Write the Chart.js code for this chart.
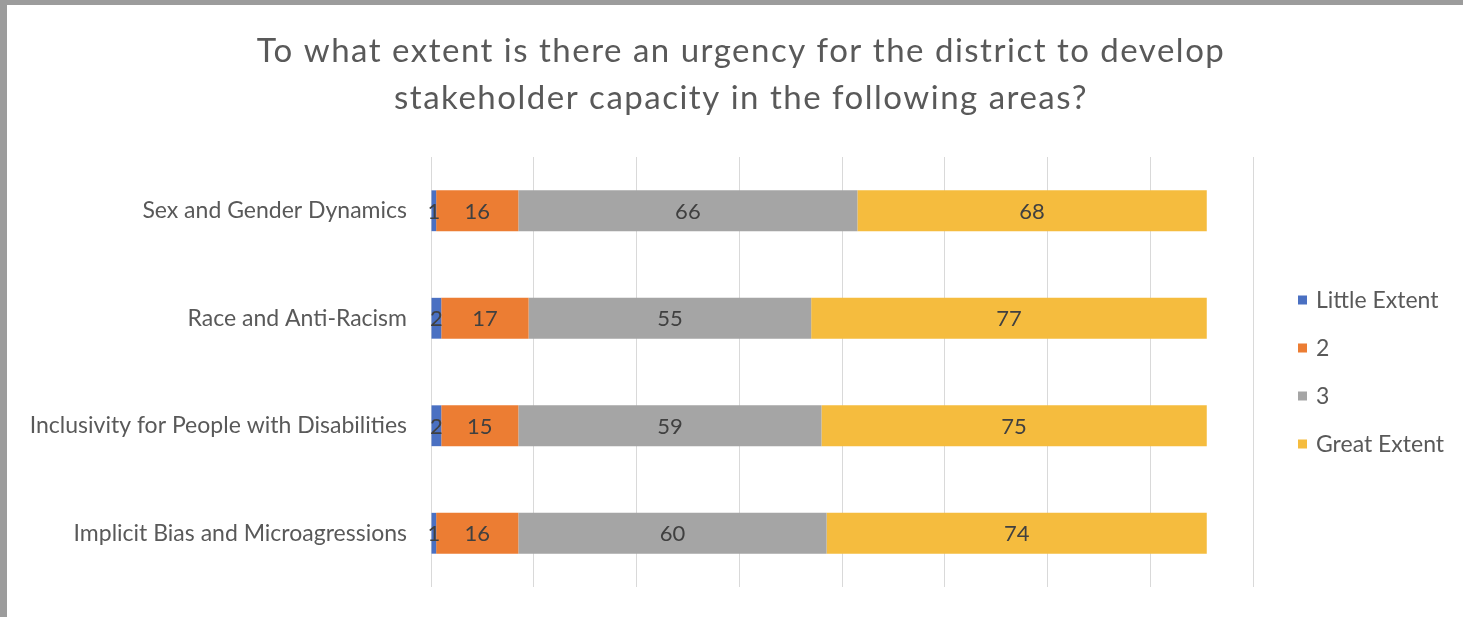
<!DOCTYPE html>
<html>
<head>
<meta charset="utf-8">
<title>Stakeholder capacity urgency</title>
<script src="https://cdn.jsdelivr.net/npm/chart.js@4/dist/chart.umd.min.js"></script>
<style>
  html, body { margin: 0; padding: 0; }
  body { background: #9c9c9c; width: 1463px; height: 617px; overflow: hidden; position: relative; }
  #frame { position: absolute; left: 7px; top: 5px; width: 1456px; height: 612px; background: #fff; }
  canvas { display: block; }
</style>
</head>
<body>
<div id="frame"><canvas id="chart" width="1456" height="612"></canvas></div>
<script>
  // ── Data ──────────────────────────────────────────────────
  const areas = [
    'Sex and Gender Dynamics',
    'Race and Anti-Racism',
    'Inclusivity for People with Disabilities',
    'Implicit Bias and Microagressions',
  ];
  const seriesNames = ['Little Extent', '2', '3', 'Great Extent'];
  const littleExtent = [1, 2, 2, 1];
  const level2 = [16, 17, 15, 16];
  const level3 = [66, 55, 59, 60];
  const greatExtent = [68, 77, 75, 74];
  const xTicks = [0, 20, 40, 60, 80, 100, 120, 140, 160];
  const titleLines = [
    'To what extent is there an urgency for the district to develop',
    'stakeholder capacity in the following areas?',
  ];

  const colors = ['#4a70c2', '#ec7d33', '#a5a5a5', '#f5bc3e'];
  const FONT = 'Lato, "Open Sans", sans-serif';
  const TEXT = '#595959';

  // ── Plugins ───────────────────────────────────────────────
  // two-line title centred over the whole canvas
  const wideTitle = {
    id: 'wideTitle',
    afterDraw(chart) {
      const { ctx, width } = chart;
      ctx.save();
      ctx.font = `33px ${FONT}`;
      ctx.letterSpacing = '1.5px';
      ctx.fillStyle = TEXT;
      ctx.textAlign = 'center';
      ctx.textBaseline = 'middle';
      titleLines.forEach((line, i) => ctx.fillText(line, width / 2 + 6, 46 + i * 47));
      ctx.restore();
    },
  };

  // value labels centred in every segment
  const segmentLabels = {
    id: 'segmentLabels',
    afterDatasetsDraw(chart) {
      const { ctx } = chart;
      ctx.save();
      ctx.font = `22px ${FONT}`;
      ctx.fillStyle = '#404040';
      ctx.textAlign = 'center';
      ctx.textBaseline = 'middle';
      chart.data.datasets.forEach((ds, i) => {
        chart.getDatasetMeta(i).data.forEach((bar, j) => {
          const cx = (bar.x + bar.base) / 2;
          ctx.fillText(String(ds.data[j]), cx, bar.y + 1);
        });
      });
      ctx.restore();
    },
  };

  // vertical legend to the right of the plot
  const sideLegend = {
    id: 'sideLegend',
    afterDraw(chart) {
      const { ctx, chartArea } = chart;
      const x = chartArea.right + 45;
      const midY = (chartArea.top + chartArea.bottom) / 2;
      const step = 48;
      ctx.save();
      ctx.font = `23px ${FONT}`;
      ctx.textBaseline = 'middle';
      chart.data.datasets.forEach((ds, i) => {
        const y = midY + (i - 1.5) * step;
        ctx.fillStyle = ds.backgroundColor;
        ctx.fillRect(x, y - 4.5, 9, 9);
        ctx.fillStyle = TEXT;
        ctx.fillText(ds.label, x + 18, y + 1);
      });
      ctx.restore();
    },
  };

  // ── Chart ─────────────────────────────────────────────────
  const values = [littleExtent, level2, level3, greatExtent];

  new Chart(document.getElementById('chart'), {
    type: 'bar',
    data: {
      labels: areas,
      datasets: values.map((data, i) => ({
        label: seriesNames[i],
        data,
        backgroundColor: colors[i],
        barPercentage: 0.38,
        categoryPercentage: 1,
      })),
    },
    options: {
      indexAxis: 'y',
      responsive: false,
      animation: false,
      layout: { padding: { left: 10, right: 210, top: 152, bottom: 30 } },
      plugins: {
        legend: { display: false },
        tooltip: { enabled: false },
        title: { display: false },
      },
      scales: {
        x: {
          stacked: true,
          min: xTicks[0],
          max: xTicks[xTicks.length - 1],
          afterBuildTicks: scale => { scale.ticks = xTicks.map(v => ({ value: v })); },
          afterFit: scale => {
            scale.height = 0;
            scale.paddingLeft = scale.paddingRight = 0;
          },
          ticks: { display: false },
          grid: { color: '#d9d9d9', lineWidth: 1, drawTicks: false },
          border: { display: false },
        },
        y: {
          stacked: true,
          afterFit: scale => {
            scale.width = 414;
            scale.paddingTop = scale.paddingBottom = 0;
          },
          ticks: {
            color: TEXT,
            padding: 24,
            font: { family: FONT, size: 23 },
          },
          grid: { display: false, drawTicks: false },
          border: { display: false },
        },
      },
    },
    plugins: [segmentLabels, sideLegend, wideTitle],
  });
</script>
</body>
</html>
